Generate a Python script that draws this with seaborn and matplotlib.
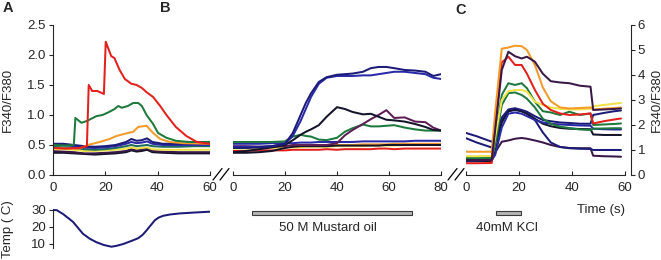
#calcium imaging traces - F340/F380 ratio for cold, mustard oil and KCl
import numpy as np
import pandas as pd
import matplotlib.pyplot as plt
import seaborn as sns
from matplotlib.lines import Line2D

sns.set_style("ticks")
plt.rcParams['font.family'] = ['Liberation Sans', 'DejaVu Sans']
plt.rcParams['font.size'] = 9.5

# colours of the individual cells
RED = '#e3201c'
GREEN = '#1d7a3c'
ORANGE = '#f39a2a'
YELLOW = '#f0e24a'
NAVY = '#1c1c78'
BLUE = '#2a2aa8'
DPURPLE = '#3a1846'
MAROON = '#5e1d55'
TEAL = '#1f6b5c'
BLACK = '#14142a'

# ---- panel A (cold) ----
a_red_t = [0, 5, 10, 13.0, 13.7, 15, 17, 19.5, 20.2, 22.3, 23.5, 25.5, 27.5, 30, 32, 34, 35.8, 38.3, 41, 43.4, 47, 51, 55, 60]
a_red_v = [0.45, 0.44, 0.45, 0.48, 1.50, 1.40, 1.40, 1.35, 2.22, 1.98, 1.95, 1.75, 1.60, 1.52, 1.50, 1.45, 1.38, 1.30, 1.15, 1.00, 0.80, 0.65, 0.55, 0.52]

a_green_t = [0, 5, 8.0, 8.6, 10.9, 13, 16.6, 19, 21.5, 23.6, 25, 26.3, 28.7, 30.7, 32.6, 34, 35.8, 38.3, 40.2, 43.4, 47, 52, 60]
a_green_v = [0.50, 0.49, 0.50, 0.95, 0.87, 0.90, 0.98, 1.00, 1.05, 1.10, 1.15, 1.12, 1.15, 1.20, 1.20, 1.15, 1.00, 0.85, 0.70, 0.62, 0.57, 0.55, 0.55]

a_orange_t = [0, 5, 10, 13.4, 17.9, 21.7, 24.3, 28.7, 30.7, 32.6, 35.8, 38.3, 41, 44.7, 50, 60]
a_orange_v = [0.45, 0.44, 0.44, 0.50, 0.55, 0.60, 0.65, 0.70, 0.72, 0.80, 0.82, 0.70, 0.60, 0.55, 0.53, 0.52]

a_low_t = [0, 4, 8, 12, 16, 20, 24, 28, 30, 32, 34, 36, 38, 42, 48, 54, 60]
a_navy_v = [0.52, 0.52, 0.50, 0.48, 0.47, 0.48, 0.50, 0.55, 0.60, 0.57, 0.58, 0.61, 0.55, 0.52, 0.52, 0.53, 0.53]
a_blue_v = [0.50, 0.50, 0.48, 0.46, 0.45, 0.46, 0.48, 0.52, 0.55, 0.53, 0.54, 0.56, 0.52, 0.50, 0.50, 0.50, 0.50]
a_teal_v = [0.47, 0.46, 0.45, 0.43, 0.42, 0.43, 0.45, 0.48, 0.50, 0.48, 0.49, 0.50, 0.48, 0.47, 0.47, 0.48, 0.48]
a_yellow_v = [0.43, 0.43, 0.42, 0.40, 0.40, 0.41, 0.42, 0.44, 0.46, 0.44, 0.45, 0.46, 0.43, 0.42, 0.42, 0.42, 0.42]
a_purple_v = [0.40, 0.39, 0.38, 0.36, 0.36, 0.37, 0.38, 0.40, 0.43, 0.41, 0.42, 0.45, 0.40, 0.39, 0.38, 0.38, 0.38]
a_black_v = [0.37, 0.37, 0.36, 0.35, 0.34, 0.35, 0.36, 0.38, 0.41, 0.39, 0.40, 0.42, 0.38, 0.37, 0.36, 0.36, 0.36]

# temperature during the cold ramp
temp_t = [0, 1.5, 4, 7.7, 11.5, 14, 16.7, 19.5, 22.4, 24.5, 26.9, 30, 32.6, 34.3, 35.8, 37.5, 39, 40.5, 42.2, 45, 48.6, 54, 60]
temp_v = [30.0, 29.9, 27.5, 23.0, 16.0, 13.2, 11.0, 9.4, 8.4, 9.0, 10.0, 11.8, 13.4, 15.4, 18.0, 21.2, 24.0, 25.6, 26.6, 27.4, 28.0, 28.5, 29.0]

# ---- panel B (mustard oil) ----
b_t = [0, 5, 10, 15, 20, 23, 26, 28, 30, 33, 36, 40, 43, 46, 50, 53, 56, 59, 62, 66, 70, 74, 77, 80]
b_navy1_v = [0.45, 0.45, 0.46, 0.48, 0.52, 0.70, 1.00, 1.20, 1.36, 1.55, 1.63, 1.67, 1.68, 1.69, 1.72, 1.78, 1.80, 1.80, 1.78, 1.75, 1.74, 1.72, 1.65, 1.68]
b_navy2_v = [0.47, 0.47, 0.47, 0.48, 0.52, 0.65, 0.90, 1.10, 1.30, 1.52, 1.62, 1.65, 1.65, 1.65, 1.66, 1.66, 1.68, 1.70, 1.72, 1.72, 1.70, 1.68, 1.62, 1.60]
b_dnavy_v = [0.38, 0.40, 0.43, 0.46, 0.50, 0.58, 0.67, 0.72, 0.76, 0.83, 0.97, 1.13, 1.10, 1.05, 1.01, 1.02, 0.97, 0.92, 0.91, 0.89, 0.85, 0.80, 0.75, 0.74]
b_maroon_v = [0.48, 0.48, 0.47, 0.47, 0.48, 0.50, 0.50, 0.50, 0.50, 0.50, 0.50, 0.53, 0.66, 0.75, 0.85, 0.93, 1.00, 1.08, 0.95, 0.96, 0.89, 0.88, 0.79, 0.74]
b_green_v = [0.55, 0.55, 0.55, 0.55, 0.56, 0.64, 0.67, 0.65, 0.64, 0.59, 0.58, 0.62, 0.72, 0.78, 0.84, 0.81, 0.81, 0.82, 0.83, 0.79, 0.76, 0.74, 0.74, 0.74]
b_blue_v = [0.52, 0.52, 0.52, 0.53, 0.53, 0.53, 0.54, 0.54, 0.54, 0.55, 0.55, 0.55, 0.55, 0.55, 0.56, 0.56, 0.56, 0.56, 0.56, 0.56, 0.57, 0.57, 0.57, 0.57]
b_orange_v = [0.46, 0.46, 0.47, 0.47, 0.48, 0.48, 0.48, 0.49, 0.49, 0.49, 0.49, 0.50, 0.50, 0.50, 0.51, 0.51, 0.51, 0.51, 0.52, 0.52, 0.52, 0.52, 0.52, 0.52]
b_yellow_v = [0.44, 0.44, 0.45, 0.45, 0.46, 0.46, 0.46, 0.47, 0.47, 0.47, 0.47, 0.48, 0.48, 0.48, 0.48, 0.49, 0.49, 0.49, 0.49, 0.50, 0.50, 0.50, 0.50, 0.50]
b_red_v = [0.40, 0.40, 0.41, 0.41, 0.41, 0.42, 0.42, 0.42, 0.42, 0.42, 0.43, 0.42, 0.43, 0.43, 0.43, 0.43, 0.44, 0.44, 0.43, 0.44, 0.44, 0.44, 0.44, 0.44]
b_black_v = [0.37, 0.37, 0.38, 0.40, 0.45, 0.47, 0.48, 0.48, 0.48, 0.48, 0.48, 0.49, 0.49, 0.49, 0.49, 0.49, 0.49, 0.50, 0.50, 0.50, 0.50, 0.50, 0.50, 0.50]

# ---- panel C (KCl) ----
c_t = [0, 4, 9.7, 11, 13.5, 16, 18.5, 21, 23, 26, 29, 32, 35.5, 39, 43, 47, 48, 52, 56, 58.5]
c_orange_v = [0.93, 0.93, 0.93, 2.50, 5.05, 5.10, 5.17, 5.15, 5.00, 4.40, 3.50, 2.95, 2.70, 2.66, 2.68, 2.70, 2.62, 2.65, 2.68, 2.70]
c_dpurple_v = [0.60, 0.60, 0.60, 1.80, 4.20, 4.93, 4.75, 4.66, 4.73, 4.53, 4.05, 3.75, 3.70, 3.67, 3.57, 3.53, 2.60, 2.62, 2.64, 2.66]
c_red_v = [0.47, 0.47, 0.48, 2.00, 4.50, 4.73, 4.40, 4.40, 4.05, 3.40, 2.85, 2.60, 2.46, 2.40, 2.42, 2.46, 2.06, 2.15, 2.22, 2.26]
c_yellow_v = [0.75, 0.75, 0.76, 1.50, 3.00, 3.35, 3.40, 3.40, 3.33, 2.93, 2.80, 2.70, 2.65, 2.62, 2.62, 2.65, 2.75, 2.80, 2.85, 2.88]
c_green1_v = [0.65, 0.65, 0.66, 1.40, 3.20, 3.67, 3.60, 3.67, 3.47, 2.93, 2.55, 2.50, 2.40, 2.53, 2.40, 2.46, 2.00, 2.02, 2.04, 2.06]
c_green2_v = [0.70, 0.70, 0.70, 1.20, 2.80, 3.27, 3.30, 3.20, 3.05, 2.70, 2.25, 2.05, 1.93, 1.88, 1.82, 1.80, 1.85, 1.86, 1.87, 1.87]
c_navy1_v = [1.68, 1.55, 1.33, 1.50, 2.30, 2.62, 2.67, 2.60, 2.53, 2.35, 2.20, 2.15, 2.10, 2.08, 2.05, 2.05, 2.40, 2.48, 2.55, 2.58]
c_navy2_v = [1.47, 1.30, 1.10, 1.30, 2.20, 2.55, 2.60, 2.55, 2.45, 2.20, 1.70, 1.30, 1.12, 1.07, 1.05, 1.04, 1.00, 1.00, 1.00, 1.00]
c_navy3_v = [0.55, 0.55, 0.56, 0.90, 2.10, 2.55, 2.62, 2.55, 2.45, 2.25, 2.05, 1.95, 1.88, 1.85, 1.84, 1.83, 1.62, 1.60, 1.60, 1.60]
c_navy4_v = [0.58, 0.58, 0.60, 0.80, 1.90, 2.45, 2.50, 2.45, 2.35, 2.20, 2.10, 2.05, 2.02, 2.00, 1.98, 1.97, 1.85, 1.83, 1.82, 1.82]
c_purple_v = [0.60, 0.60, 0.62, 0.90, 1.33, 1.38, 1.45, 1.48, 1.45, 1.38, 1.30, 1.20, 1.12, 1.08, 1.07, 1.07, 0.77, 0.75, 0.74, 0.73]

# stimulus bars (start, end in s)
mustard_on = [7.4, 69.0]
kcl_on = [11.2, 20.6]


def trace(ax, t, v, color):
    sns.lineplot(x=t, y=v, color=color, lw=1.45, ax=ax)


fig = plt.figure(figsize=(6.61, 2.6), dpi=100)
axA = fig.add_axes([0.080, 0.327, 0.2375, 0.577])
axB = fig.add_axes([0.3525, 0.327, 0.3147, 0.577])
axC = fig.add_axes([0.705, 0.327, 0.2405, 0.577])
axT = fig.add_axes([0.080, 0.0452, 0.2375, 0.1504])
axSB = fig.add_axes([0.3525, 0.077, 0.3147, 0.154])
axSC = fig.add_axes([0.705, 0.077, 0.2405, 0.154])

# panel A
for v, c in [(a_black_v, BLACK), (a_purple_v, DPURPLE), (a_yellow_v, YELLOW), (a_teal_v, TEAL),
             (a_blue_v, BLUE), (a_navy_v, NAVY)]:
    trace(axA, a_low_t, v, c)
trace(axA, a_orange_t, a_orange_v, ORANGE)
trace(axA, a_green_t, a_green_v, GREEN)
trace(axA, a_red_t, a_red_v, RED)

# panel B
for v, c in [(b_red_v, RED), (b_yellow_v, YELLOW), (b_orange_v, ORANGE), (b_black_v, BLACK),
             (b_blue_v, BLUE), (b_green_v, GREEN), (b_maroon_v, MAROON), (b_dnavy_v, BLACK),
             (b_navy2_v, BLUE), (b_navy1_v, NAVY)]:
    trace(axB, b_t, v, c)

# panel C
for v, c in [(c_purple_v, DPURPLE), (c_navy2_v, NAVY), (c_navy3_v, BLACK), (c_navy4_v, BLUE),
             (c_navy1_v, NAVY), (c_green2_v, GREEN), (c_green1_v, GREEN), (c_yellow_v, YELLOW),
             (c_red_v, RED), (c_orange_v, ORANGE), (c_dpurple_v, DPURPLE)]:
    trace(axC, c_t, v, c)

# temperature
trace(axT, temp_t, temp_v, NAVY)

for ax in [axA, axB, axC, axT]:
    for s in ax.spines.values():
        s.set_linewidth(0.8)
    ax.tick_params(width=0.8, length=3, pad=2)
    ax.tick_params(axis='x', direction='in', pad=5)

axA.set_xlim(0, 60)
axA.set_ylim(0, 2.5)
axA.set_xticks([0, 20, 40, 60])
axA.set_yticks([0, 0.5, 1.0, 1.5, 2.0, 2.5])
axA.set_ylabel("F340/F380")
axA.yaxis.set_label_coords(-0.25, 0.5)
sns.despine(ax=axA)

axB.set_xlim(0, 80)
axB.set_ylim(0, 2.5)
axB.set_xticks([0, 20, 40, 60, 80])
axB.set_yticks([])
sns.despine(ax=axB, left=True)

axC.set_xlim(0, 60)
axC.set_ylim(0, 6)
axC.set_xticks([0, 20, 40, 60])
axC.set_yticks([0, 1, 2, 3, 4, 5, 6])
axC.yaxis.tick_right()
axC.yaxis.set_label_position('right')
axC.set_ylabel("F340/F380")
axC.yaxis.set_label_coords(1.16, 0.5)
sns.despine(ax=axC, left=True, right=False)
axC.spines['right'].set_position(('outward', 4))
axC.text(1.0, -0.233, "Time (s)", transform=axC.transAxes, ha='right', va='center')

axT.set_xlim(0, 60)
axT.set_ylim(7.5, 30.5)
axT.set_yticks([10, 20, 30])
axT.set_xticks([])
axT.set_ylabel("Temp ( C)")
axT.yaxis.set_label_coords(-0.25, 0.5)
sns.despine(ax=axT, bottom=True)

for ax in [axA, axB, axC, axT]:
    ax.set_xlabel("")

# stimulus bars
axSB.set_xlim(0, 80)
axSB.set_ylim(0, 1)
axSB.barh(0.68, mustard_on[1] - mustard_on[0], left=mustard_on[0], height=0.1,
          color='#b5b5b5', edgecolor='#3a3a3a', lw=0.8)
axSB.text(17.5, 0.3, "50 M Mustard oil", ha='left', va='center')
axSB.axis('off')

axSC.set_xlim(0, 60)
axSC.set_ylim(0, 1)
axSC.barh(0.68, kcl_on[1] - kcl_on[0], left=kcl_on[0], height=0.1,
          color='#b5b5b5', edgecolor='#3a3a3a', lw=0.8)
axSC.text(3.6, 0.3, "40mM KCl", ha='left', va='center')
axSC.axis('off')

# axis break marks
W, H = 661.0, 260.0
for x0 in [213, 220, 448, 455]:
    fig.add_artist(Line2D([x0 / W, (x0 + 9) / W], [1 - 180 / H, 1 - 168.5 / H],
                          transform=fig.transFigure, color='black', lw=0.9))

# panel letters
fig.text(3 / W, 1 - 8 / H, "A", fontsize=10.5, fontweight='bold', va='center')
fig.text(160 / W, 1 - 8 / H, "B", fontsize=10.5, fontweight='bold', va='center')
fig.text(455 / W, 1 - 10 / H, "C", fontsize=10.5, fontweight='bold', va='center')

plt.savefig("out.png", dpi=100)
